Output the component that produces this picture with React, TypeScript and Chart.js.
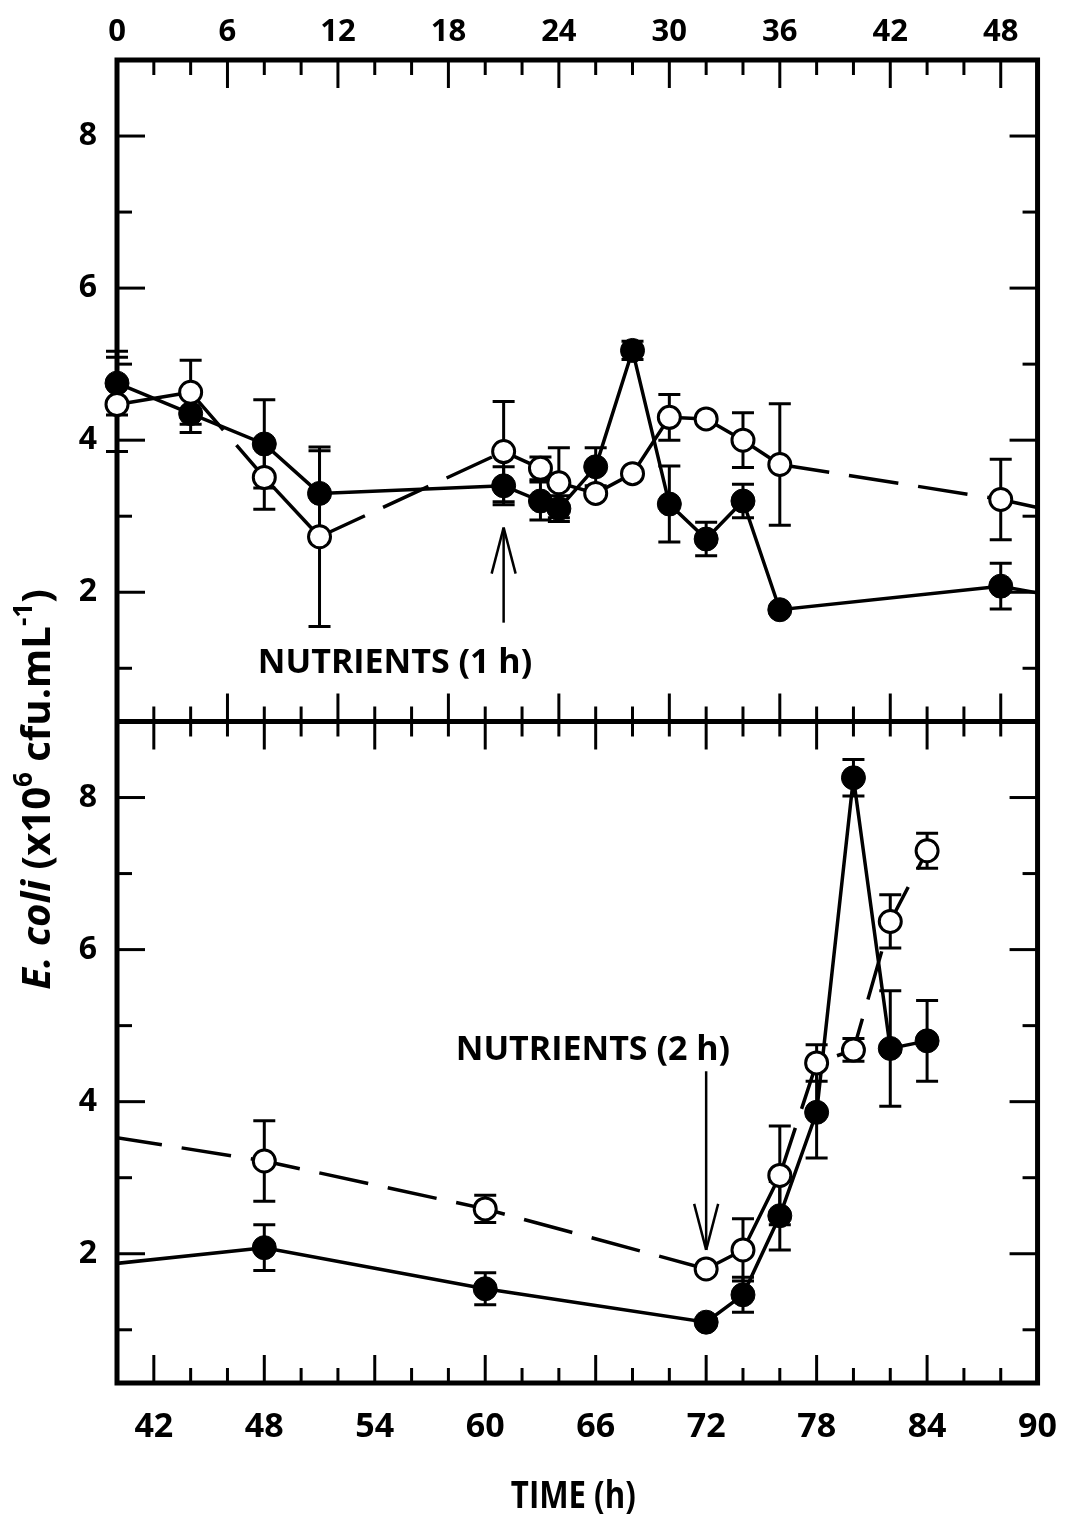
import React, { useEffect, useRef } from "react";
import { Chart, registerables } from "chart.js";

Chart.register(...registerables);

// ---------------- data ----------------
const times = [0, 4, 8, 11, 21, 23, 24, 26, 28, 30, 32, 34, 36, 48, 60, 72, 74, 76, 78, 80, 82, 84];
const filledValues = [4.75, 4.35, 3.95, 3.3, 3.4, 3.2, 3.1, 3.65, 5.18, 3.16, 2.7, 3.2, 1.77, 2.08, 1.54, 1.1, 1.46, 2.5, 3.86, 8.26, 4.7, 4.8];
const filledErrors = [0.42, 0.25, 0.58, 0.56, 0.25, 0.25, 0.17, 0.25, 0.12, 0.5, 0.22, 0.22, 0, 0.3, 0.21, 0, 0.23, 0.45, 0.6, 0.24, 0.76, 0.53];
const openValues = [4.47, 4.63, 3.51, 2.73, 3.85, 3.63, 3.44, 3.3, 3.56, 4.3, 4.28, 4.0, 3.68, 3.22, 2.59, 1.8, 2.05, 3.03, 4.51, 4.68, 6.37, 7.3];
const openErrors = [0.62, 0.42, 0.42, 1.18, 0.66, 0.15, 0.46, 0, 0, 0.3, 0, 0.36, 0.8, 0.53, 0.18, 0, 0.41, 0.65, 0.24, 0.15, 0.35, 0.23];
// segment i joins point i and i+1 (true = dashed line)
const openDashed = [false, true, false, true, false, false, false, false, false, false, false, false, true, true, true, false, false, true, true, true, true];

const xTopTicks = [0, 6, 12, 18, 24, 30, 36, 42, 48];
const xBotTicks = [42, 48, 54, 60, 66, 72, 78, 84, 90];
const yTicks = [2, 4, 6, 8];

const xAxisTitle = "TIME (h)";
const yTitleParts = ["E. coli", " (x10", "6", " cfu.mL", "-1", ")"];
const nutrientLabels = ["NUTRIENTS (1 h)", "NUTRIENTS (2 h)"];
const nutrientTimes = [21, 72];
// arrow tail / tip values on each panel's y axis
const arrowTails = [1.6, 4.4];
const arrowTips = [2.85, 2.05];
// label anchor (time, value) on each panel
const labelTimes = [15.1, 65.85];
const labelValues = [1.07, 4.68];

// ---------------- style ----------------
const W = 1081;
const H = 1515;
const FONT = '"Open Sans", "DejaVu Sans", sans-serif';
const DASH = [50, 20];
const MAJOR = 28;
const MINOR = 15;
const CAP = 11;

function seg(ctx: CanvasRenderingContext2D, x1: number, y1: number, x2: number, y2: number) {
  ctx.beginPath();
  ctx.moveTo(x1, y1);
  ctx.lineTo(x2, y2);
  ctx.stroke();
}

const framePlugin = {
  id: "frame",
  beforeDatasetsDraw(chart: any) {
    const ctx: CanvasRenderingContext2D = chart.ctx;
    const { xTop, xBot, yTop, yBot } = chart.scales;
    ctx.save();
    ctx.strokeStyle = "#000";
    ctx.lineWidth = 3;
    for (let h = 2; h < 50; h += 2) {
      const x = xTop.getPixelForValue(h);
      const len = h % 6 === 0 ? MAJOR : MINOR;
      seg(ctx, x, yTop.top, x, yTop.top + len);
      seg(ctx, x, yTop.bottom, x, yTop.bottom - len);
    }
    for (let h = 42; h < 90; h += 2) {
      const x = xBot.getPixelForValue(h);
      const len = h % 6 === 0 ? MAJOR : MINOR;
      seg(ctx, x, yBot.top, x, yBot.top + len);
      seg(ctx, x, yBot.bottom, x, yBot.bottom - len);
    }
    const left = xTop.left;
    const right = xTop.right;
    for (const ys of [yTop, yBot]) {
      for (let v = 1; v <= 8; v++) {
        const y = ys.getPixelForValue(v);
        const len = v % 2 === 0 ? MAJOR : MINOR;
        seg(ctx, left, y, left + len, y);
        seg(ctx, right, y, right - len, y);
      }
    }
    ctx.lineWidth = 5;
    ctx.strokeRect(left, yTop.top, right - left, yBot.bottom - yTop.top);
    seg(ctx, left, yTop.bottom, right, yTop.bottom);
    ctx.restore();
  },
};

const errorBarPlugin = {
  id: "errorBars",
  beforeDatasetsDraw(chart: any) {
    const ctx: CanvasRenderingContext2D = chart.ctx;
    const s = chart.scales;
    const panels = [
      [s.xTop, s.yTop, 16],
      [s.xBot, s.yBot, 0],
    ];
    ctx.save();
    ctx.strokeStyle = "#000";
    ctx.lineWidth = 3;
    for (const [xs, ys, extra] of panels as any[]) {
      ctx.save();
      ctx.beginPath();
      ctx.rect(xs.left - extra, ys.top, xs.right - xs.left + extra, ys.bottom - ys.top);
      ctx.clip();
      const series: [number[], number[]][] = [
        [filledValues, filledErrors],
        [openValues, openErrors],
      ];
      for (const [vals, errs] of series) {
        times.forEach((t, i) => {
          const e = errs[i];
          if (!e) return;
          const x = xs.getPixelForValue(t);
          const yHi = ys.getPixelForValue(vals[i] + e);
          const yLo = ys.getPixelForValue(vals[i] - e);
          seg(ctx, x, yHi, x, yLo);
          seg(ctx, x - CAP, yHi, x + CAP, yHi);
          seg(ctx, x - CAP, yLo, x + CAP, yLo);
        });
      }
      ctx.restore();
    }
    ctx.restore();
  },
};

const textPlugin = {
  id: "texts",
  afterDatasetsDraw(chart: any) {
    const ctx: CanvasRenderingContext2D = chart.ctx;
    const s = chart.scales;
    const panels = [
      [s.xTop, s.yTop],
      [s.xBot, s.yBot],
    ];
    ctx.save();
    ctx.fillStyle = "#000";
    ctx.strokeStyle = "#000";
    // nutrient annotations
    panels.forEach(([xs, ys], k) => {
      ctx.font = `bold 34px ${FONT}`;
      ctx.textAlign = "center";
      ctx.textBaseline = "middle";
      ctx.fillText(nutrientLabels[k], xs.getPixelForValue(labelTimes[k]), ys.getPixelForValue(labelValues[k]));
      const x = xs.getPixelForValue(nutrientTimes[k]);
      const yTail = ys.getPixelForValue(arrowTails[k]);
      const yTip = ys.getPixelForValue(arrowTips[k]);
      const dir = yTip < yTail ? 1 : -1;
      ctx.lineWidth = 2.5;
      seg(ctx, x, yTail, x, yTip);
      seg(ctx, x, yTip, x - 12, yTip + dir * 46);
      seg(ctx, x, yTip, x + 12, yTip + dir * 46);
    });
    // x axis title (condensed)
    ctx.save();
    ctx.font = `bold 38px ${FONT}`;
    ctx.textAlign = "center";
    ctx.textBaseline = "middle";
    ctx.translate((s.xBot.left + s.xBot.right) / 2 - 4, 1497);
    ctx.scale(0.82, 1);
    ctx.fillText(xAxisTitle, 0, 0);
    ctx.restore();
    // y axis title (rotated, with superscripts)
    const big = 40;
    const small = 26;
    const parts = yTitleParts.map((t, i) => {
      const sup = i === 2 || i === 4;
      const font = i === 0 ? `italic bold ${big}px ${FONT}` : `bold ${sup ? small : big}px ${FONT}`;
      ctx.font = font;
      return { t, font, dy: sup ? -18 : 0, w: ctx.measureText(t).width };
    });
    const total = parts.reduce((a, p) => a + p.w, 0);
    const cy = (s.yTop.top + s.yBot.bottom) / 2 + 68;
    ctx.translate(50, cy);
    ctx.rotate(-Math.PI / 2);
    ctx.textAlign = "left";
    ctx.textBaseline = "alphabetic";
    let px = -total / 2;
    for (const p of parts) {
      ctx.font = p.font;
      ctx.fillText(p.t, px, p.dy);
      px += p.w;
    }
    ctx.restore();
  },
};

export default function App() {
  const ref = useRef<HTMLCanvasElement>(null);
  useEffect(() => {
    const canvas = ref.current;
    if (!canvas) return;
    const openPts = times.map((t, i) => ({ x: t, y: openValues[i] }));
    const filledPts = times.map((t, i) => ({ x: t, y: filledValues[i] }));
    const openStyle = {
      borderColor: "#000",
      backgroundColor: "#fff",
      pointBackgroundColor: "#fff",
      pointBorderColor: "#000",
      pointRadius: 11,
      pointBorderWidth: 3,
      borderWidth: 3.5,
      segment: {
        borderDash: (c: any) => (openDashed[c.p0DataIndex] ? DASH : undefined),
      },
      order: 0,
    };
    const filledStyle = {
      borderColor: "#000",
      backgroundColor: "#000",
      pointBackgroundColor: "#000",
      pointBorderColor: "#000",
      pointRadius: 12,
      pointBorderWidth: 1,
      borderWidth: 3.5,
      order: 1,
    };
    const fixTicks = (vals: number[]) => (scale: any) => {
      scale.ticks = vals.map((v) => ({ value: v }));
    };
    const yCommon = () => ({
      type: "linear" as const,
      position: "left" as const,
      stack: "panels",
      stackWeight: 1,
      min: 0.3,
      max: 9,
      afterBuildTicks: fixTicks(yTicks),
      afterFit: (sc: any) => {
        sc.width = 117;
      },
      grid: { display: false, drawTicks: false },
      border: { display: false },
      ticks: { color: "#000", padding: 20, font: { family: FONT, size: 32, weight: "bold" as const } },
    });
    const chart = new Chart(canvas, {
      type: "line",
      data: {
        datasets: [
          { label: "open top", data: openPts, xAxisID: "xTop", yAxisID: "yTop", clip: { left: 16, top: 0, right: 0, bottom: 0 }, ...openStyle } as any,
          { label: "filled top", data: filledPts, xAxisID: "xTop", yAxisID: "yTop", clip: { left: 16, top: 0, right: 0, bottom: 0 }, ...filledStyle } as any,
          { label: "open bottom", data: openPts, xAxisID: "xBot", yAxisID: "yBot", clip: 0, ...openStyle } as any,
          { label: "filled bottom", data: filledPts, xAxisID: "xBot", yAxisID: "yBot", clip: 0, ...filledStyle } as any,
        ],
      },
      options: {
        animation: false,
        responsive: false,
        events: [],
        layout: { padding: { left: 0, right: 28, top: 0, bottom: 0 } },
        plugins: { legend: { display: false }, tooltip: { enabled: false } },
        scales: {
          yBot: yCommon(),
          yTop: yCommon(),
          xTop: {
            type: "linear",
            position: "top",
            min: 0,
            max: 50,
            afterBuildTicks: fixTicks(xTopTicks),
            afterFit: (sc: any) => {
              sc.height = 60;
            },
            grid: { display: false, drawTicks: false },
            border: { display: false },
            ticks: { color: "#000", padding: 9, maxRotation: 0, autoSkip: false, font: { family: FONT, size: 31, weight: "bold" } },
          },
          xBot: {
            type: "linear",
            position: "bottom",
            min: 40,
            max: 90,
            afterBuildTicks: fixTicks(xBotTicks),
            afterFit: (sc: any) => {
              sc.height = 132;
            },
            grid: { display: false, drawTicks: false },
            border: { display: false },
            ticks: { color: "#000", padding: 24, maxRotation: 0, autoSkip: false, font: { family: FONT, size: 34, weight: "bold" } },
          },
        } as any,
      },
      plugins: [framePlugin, errorBarPlugin, textPlugin],
    });
    return () => chart.destroy();
  }, []);
  return (
    <div style={{ position: "absolute", left: 0, top: 0, width: W, height: H, background: "#fff" }}>
      <canvas ref={ref} width={W} height={H} style={{ display: "block" }} />
    </div>
  );
}
